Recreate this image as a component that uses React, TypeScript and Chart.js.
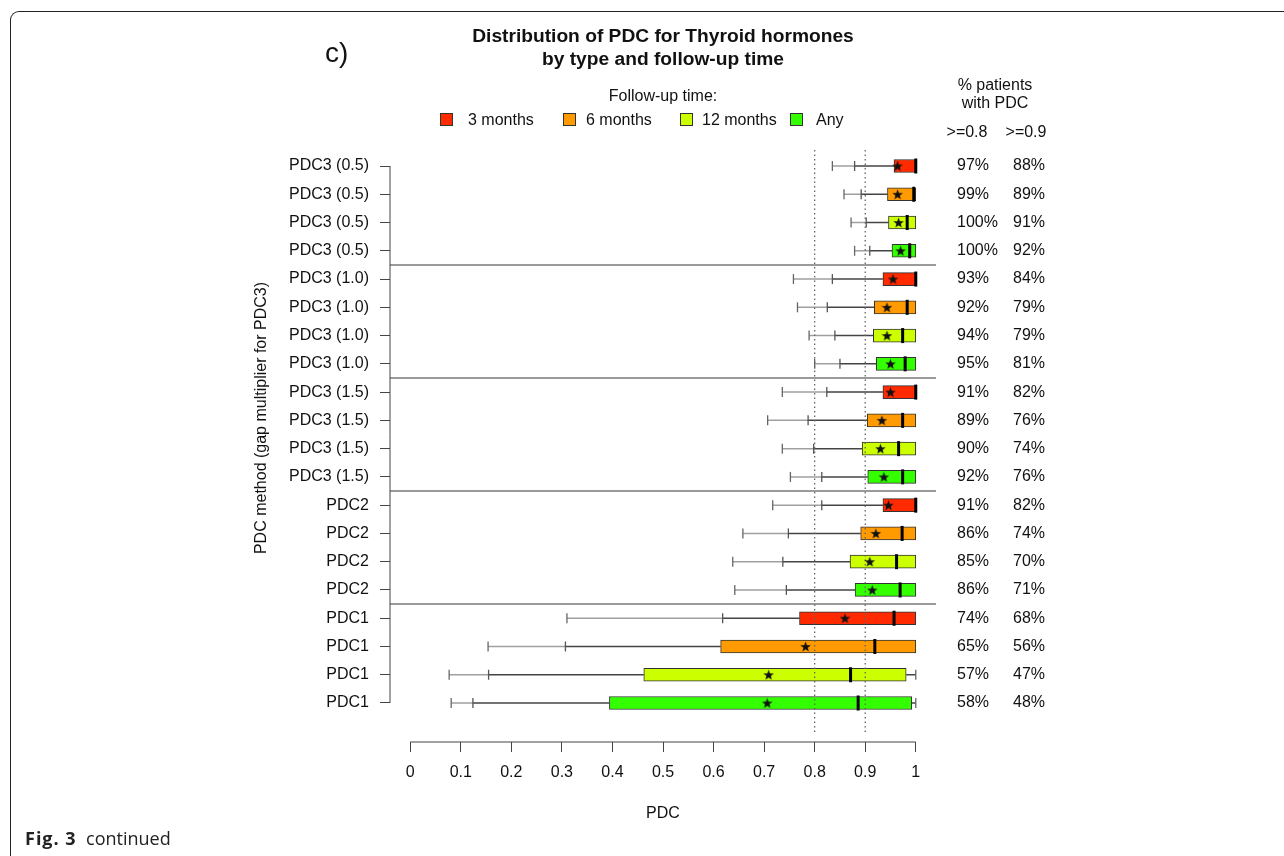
import React, { useEffect, useRef } from 'react';
import { Chart, registerables } from 'chart.js';

Chart.register(...registerables);

// ---------------- data ----------------
const ROW_LABELS = [
  'PDC3 (0.5)', 'PDC3 (0.5)', 'PDC3 (0.5)', 'PDC3 (0.5)',
  'PDC3 (1.0)', 'PDC3 (1.0)', 'PDC3 (1.0)', 'PDC3 (1.0)',
  'PDC3 (1.5)', 'PDC3 (1.5)', 'PDC3 (1.5)', 'PDC3 (1.5)',
  'PDC2', 'PDC2', 'PDC2', 'PDC2',
  'PDC1', 'PDC1', 'PDC1', 'PDC1',
];
const FOLLOW_UP = ['3 months', '6 months', '12 months', 'Any'];
const FOLLOW_UP_COLORS = ['#ff2a00', '#ff9a00', '#ccff00', '#33ff00'];

const WHISKER_OUTER = [0.835, 0.858, 0.872, 0.879, 0.758, 0.766, 0.789, 0.8, 0.736, 0.707, 0.736, 0.752, 0.717, 0.658, 0.638, 0.642, 0.31, 0.154, 0.077, 0.081];
const WHISKER_INNER = [0.879, 0.892, 0.902, 0.909, 0.835, 0.825, 0.84, 0.85, 0.824, 0.787, 0.798, 0.814, 0.814, 0.748, 0.737, 0.744, 0.618, 0.307, 0.155, 0.124];
const BOX_LOW = [0.957, 0.944, 0.946, 0.953, 0.935, 0.918, 0.916, 0.922, 0.935, 0.904, 0.894, 0.905, 0.935, 0.891, 0.87, 0.88, 0.77, 0.614, 0.462, 0.394];
const BOX_HIGH = [1, 1, 1, 1, 1, 1, 1, 1, 1, 1, 1, 1, 1, 1, 1, 1, 1, 1, 0.981, 0.992];
const WHISKER_HIGH = [1, 1, 1, 1, 1, 1, 1, 1, 1, 1, 1, 1, 1, 1, 1, 1, 1, 1, 1, 1];
const MEDIANS = [1, 0.996, 0.983, 0.988, 1, 0.983, 0.974, 0.979, 1, 0.974, 0.966, 0.974, 1, 0.973, 0.962, 0.969, 0.957, 0.919, 0.871, 0.886];
const MEANS = [0.964, 0.964, 0.966, 0.97, 0.955, 0.943, 0.943, 0.95, 0.95, 0.933, 0.93, 0.937, 0.946, 0.921, 0.909, 0.914, 0.86, 0.782, 0.709, 0.706];

const PCT_08 = ['97%', '99%', '100%', '100%', '93%', '92%', '94%', '95%', '91%', '89%', '90%', '92%', '91%', '86%', '85%', '86%', '74%', '65%', '57%', '58%'];
const PCT_09 = ['88%', '89%', '91%', '92%', '84%', '79%', '79%', '81%', '82%', '76%', '74%', '76%', '82%', '74%', '70%', '71%', '68%', '56%', '47%', '48%'];

const X_TICKS = [0, 0.1, 0.2, 0.3, 0.4, 0.5, 0.6, 0.7, 0.8, 0.9, 1];
const X_TICK_LABELS = ['0', '0.1', '0.2', '0.3', '0.4', '0.5', '0.6', '0.7', '0.8', '0.9', '1'];
const THRESHOLDS = [0.8, 0.9];
const GROUP_BREAKS = [3.5, 7.5, 11.5, 15.5];

// ---------------- layout ----------------
const W = 1284;
const H = 856;
const X_MIN = -0.04;
const X_MAX = 1.04;
const Y_MIN = -2.5475;
const Y_MAX = 20.38;
const DOT_TOP = -0.566;
const DOT_BOTTOM = 20.03;
const FONT = '"Liberation Sans", Arial, Helvetica, sans-serif';

function makeStar(size: number, color: string): HTMLCanvasElement {
  const c = document.createElement('canvas');
  c.width = size;
  c.height = size;
  const g = c.getContext('2d')!;
  const cx = size / 2;
  const cy = size / 2 + 0.5;
  const ro = size / 2;
  const ri = ro * 0.42;
  g.beginPath();
  for (let k = 0; k < 10; k++) {
    const r = k % 2 === 0 ? ro : ri;
    const a = -Math.PI / 2 + (k * Math.PI) / 5;
    const px = cx + r * Math.cos(a);
    const py = cy + r * Math.sin(a);
    if (k === 0) g.moveTo(px, py);
    else g.lineTo(px, py);
  }
  g.closePath();
  g.fillStyle = color;
  g.fill();
  return c;
}

const axisLinesPlugin = {
  id: 'rAxisLines',
  afterDraw(chart: any) {
    const { ctx, chartArea, scales } = chart;
    const xs = scales.x;
    const ys = scales.y;
    ctx.save();
    ctx.strokeStyle = '#444';
    ctx.lineWidth = 1;
    ctx.beginPath();
    ctx.moveTo(chartArea.left, ys.getPixelForValue(0));
    ctx.lineTo(chartArea.left, ys.getPixelForValue(ROW_LABELS.length - 1));
    ctx.moveTo(xs.getPixelForValue(X_TICKS[0]), chartArea.bottom);
    ctx.lineTo(xs.getPixelForValue(X_TICKS[X_TICKS.length - 1]), chartArea.bottom);
    ctx.stroke();
    ctx.restore();
  },
};

function segs(pairs: Array<[number, number, number]>) {
  const out: any[] = [];
  pairs.forEach(([a, b, y]) => {
    out.push({ x: a, y }, { x: b, y }, { x: null, y: null });
  });
  return out;
}

const rowTicks = (scale: any) => {
  scale.ticks = ROW_LABELS.map((_, i) => ({ value: i }));
};

export default function App() {
  const ref = useRef<HTMLCanvasElement | null>(null);

  useEffect(() => {
    if (!ref.current) return;
    const star = makeStar(11, '#111');
    const rows = ROW_LABELS.map((_, i) => i);

    const lightSegs = segs(rows.map((i) => [WHISKER_OUTER[i], WHISKER_INNER[i], i] as [number, number, number]));
    const darkSegs = segs([
      ...rows.map((i) => [WHISKER_INNER[i], BOX_LOW[i], i] as [number, number, number]),
      ...rows.filter((i) => WHISKER_HIGH[i] > BOX_HIGH[i]).map((i) => [BOX_HIGH[i], WHISKER_HIGH[i], i] as [number, number, number]),
    ]);
    const sepSegs = segs(GROUP_BREAKS.map((b) => [X_MIN, X_MAX, b] as [number, number, number]));

    const rowScale = (extra: any) => ({
      type: 'linear',
      min: Y_MIN,
      max: Y_MAX,
      reverse: true,
      offset: false,
      afterBuildTicks: rowTicks,
      ...extra,
    });

    const chart = new Chart(ref.current, {
      type: 'scatter',
      data: {
        datasets: [
          {
            type: 'line',
            label: 'group separators',
            data: sepSegs,
            borderColor: '#9a9a9a',
            borderWidth: 2,
            pointRadius: 0,
            spanGaps: false,
            order: 20,
          } as any,
          ...THRESHOLDS.map((t) => ({
            type: 'line',
            label: 'threshold ' + t,
            data: [{ x: t, y: DOT_TOP }, { x: t, y: DOT_BOTTOM }],
            borderColor: '#666',
            borderWidth: 1.3,
            borderDash: [1.5, 3],
            pointRadius: 0,
            order: 3,
          })) as any,
          {
            type: 'line',
            label: 'whisker outer',
            data: lightSegs,
            borderColor: '#a0a0a0',
            borderWidth: 1.5,
            pointRadius: 0,
            spanGaps: false,
            order: 9,
          } as any,
          {
            type: 'line',
            label: 'whisker inner',
            data: darkSegs,
            borderColor: '#444',
            borderWidth: 1.5,
            pointRadius: 0,
            spanGaps: false,
            order: 8,
          } as any,
          {
            type: 'scatter',
            label: 'outer ticks',
            data: [
              ...rows.map((i) => ({ x: WHISKER_OUTER[i], y: i })),
              ...rows.filter((i) => WHISKER_HIGH[i] > BOX_HIGH[i]).map((i) => ({ x: WHISKER_HIGH[i], y: i })),
            ],
            pointStyle: 'line',
            rotation: 90,
            pointRadius: 5,
            borderColor: '#666',
            pointBorderColor: '#666',
            borderWidth: 1.3,
            order: 7,
          } as any,
          {
            type: 'scatter',
            label: 'inner ticks',
            data: rows.map((i) => ({ x: WHISKER_INNER[i], y: i })),
            pointStyle: 'line',
            rotation: 90,
            pointRadius: 5,
            borderColor: '#555',
            pointBorderColor: '#555',
            borderWidth: 1.3,
            order: 7,
          } as any,
          {
            type: 'bar',
            label: 'IQR',
            indexAxis: 'y',
            data: rows.map((i) => ({ y: i, x: [BOX_LOW[i], BOX_HIGH[i]] })),
            backgroundColor: rows.map((i) => FOLLOW_UP_COLORS[i % FOLLOW_UP.length]),
            borderColor: '#333',
            borderWidth: 1,
            borderSkipped: false,
            barThickness: 13,
            order: 5,
          } as any,
          {
            type: 'scatter',
            label: 'median',
            data: rows.map((i) => ({ x: MEDIANS[i], y: i })),
            pointStyle: 'line',
            rotation: 90,
            pointRadius: 7.5,
            borderColor: '#000',
            pointBorderColor: '#000',
            borderWidth: 3,
            order: 2,
          } as any,
          {
            type: 'scatter',
            label: 'mean',
            data: rows.map((i) => ({ x: MEANS[i], y: i })),
            pointStyle: star,
            pointRadius: 6,
            order: 1,
          } as any,
        ],
      },
      options: {
        responsive: false,
        animation: false,
        devicePixelRatio: 1,
        events: [],
        layout: { padding: { left: 248, right: 211, top: 94, bottom: 28.4 } },
        plugins: {
          legend: { display: false },
          tooltip: { enabled: false },
          title: { display: false },
        },
        scales: {
          x: {
            type: 'linear',
            min: X_MIN,
            max: X_MAX,
            offset: false,
            afterBuildTicks: (scale: any) => {
              scale.ticks = X_TICKS.map((v) => ({ value: v }));
            },
            afterFit: (scale: any) => {
              scale.height = 85.6;
            },
            grid: { display: true, offset: false, drawOnChartArea: false, drawTicks: true, tickLength: 10, color: '#444', lineWidth: 1 },
            border: { display: false },
            ticks: {
              autoSkip: false,
              maxRotation: 0,
              padding: 11,
              color: '#111',
              font: { family: FONT, size: 16 },
              callback: (_v: any, i: number) => X_TICK_LABELS[i],
            },
            title: {
              display: true,
              text: 'PDC',
              color: '#111',
              font: { family: FONT, size: 16 },
              padding: { top: 0, bottom: 4 },
            },
          },
          y: rowScale({
            position: 'left',
            afterFit: (scale: any) => {
              scale.width = 142;
            },
            grid: { display: true, offset: false, drawOnChartArea: false, drawTicks: true, tickLength: 10, color: '#444', lineWidth: 1 },
            border: { display: false },
            ticks: {
              autoSkip: false,
              padding: 11,
              color: '#111',
              font: { family: FONT, size: 16 },
              callback: (v: any) => ROW_LABELS[v],
            },
            title: {
              display: true,
              text: 'PDC method (gap multiplier for PDC3)',
              color: '#111',
              font: { family: FONT, size: 16 },
              padding: { top: 4, bottom: 0 },
            },
          }),
          yPct08: rowScale({
            position: 'right',
            weight: 1,
            afterFit: (scale: any) => {
              scale.width = 77;
            },
            grid: { display: false, drawTicks: false },
            border: { display: false },
            ticks: {
              autoSkip: false,
              padding: 21,
              color: '#111',
              font: { family: FONT, size: 16 },
              callback: (v: any) => PCT_08[v],
            },
          }),
          yPct09: rowScale({
            position: 'right',
            weight: 2,
            afterFit: (scale: any) => {
              scale.width = 60;
            },
            grid: { display: false, drawTicks: false },
            border: { display: false },
            ticks: {
              autoSkip: false,
              padding: 0,
              color: '#111',
              font: { family: FONT, size: 16 },
              callback: (v: any) => PCT_09[v],
            },
          }),
        },
      } as any,
      plugins: [axisLinesPlugin],
    });
    return () => chart.destroy();
  }, []);

  const text = (style: React.CSSProperties, content: React.ReactNode, key?: string) => (
    <div key={key} style={{ position: 'absolute', fontFamily: FONT, color: '#111', whiteSpace: 'nowrap', ...style }}>{content}</div>
  );

  const legendBoxes = [440, 563, 680, 790];
  const legendLabels = [468, 586, 702, 816];

  return (
    <div style={{ position: 'fixed', left: 0, top: 0, width: W, height: H, background: '#fff', overflow: 'hidden' }}>
      <div
        style={{
          position: 'absolute',
          left: 10,
          top: 11,
          width: W + 40,
          height: H + 40,
          borderTop: '1px solid #222',
          borderLeft: '1px solid #222',
          borderTopLeftRadius: 9,
        }}
      />
      <canvas ref={ref} width={W} height={H} style={{ position: 'absolute', left: 0, top: 0, display: 'block' }} />
      {text({ left: 463, top: 23.5, width: 400, textAlign: 'center', fontWeight: 'bold', fontSize: 19.2, lineHeight: '23px' }, (
        <>
          Distribution of PDC for Thyroid hormones
          <br />
          by type and follow-up time
        </>
      ))}
      {text({ left: 325, top: 37, fontSize: 28, lineHeight: '32px' }, 'c)')}
      {text({ left: 563, top: 85.5, width: 200, textAlign: 'center', fontSize: 16, lineHeight: '19px' }, 'Follow-up time:')}
      {FOLLOW_UP.map((f, k) => (
        <React.Fragment key={f}>
          <div
            style={{
              position: 'absolute',
              left: legendBoxes[k],
              top: 113,
              width: 11,
              height: 11,
              background: FOLLOW_UP_COLORS[k],
              border: '1px solid #333',
            }}
          />
          {text({ left: legendLabels[k], top: 109.5, fontSize: 16, lineHeight: '19px' }, f)}
        </React.Fragment>
      ))}
      {text({ left: 895, top: 75.5, width: 200, textAlign: 'center', fontSize: 16, lineHeight: '18px' }, (
        <>
          % patients
          <br />
          with PDC
        </>
      ))}
      {text({ left: 917, top: 121.5, width: 100, textAlign: 'center', fontSize: 16, lineHeight: '19px' }, '>=0.8')}
      {text({ left: 976, top: 121.5, width: 100, textAlign: 'center', fontSize: 16, lineHeight: '19px' }, '>=0.9')}
      {text({ left: 25, top: 826, fontSize: 18, lineHeight: '24px', fontFamily: '"Open Sans", "Noto Sans", sans-serif', color: '#222' }, (
        <>
          <b style={{ letterSpacing: 1 }}>Fig. 3</b>&nbsp; continued
        </>
      ))}
    </div>
  );
}
